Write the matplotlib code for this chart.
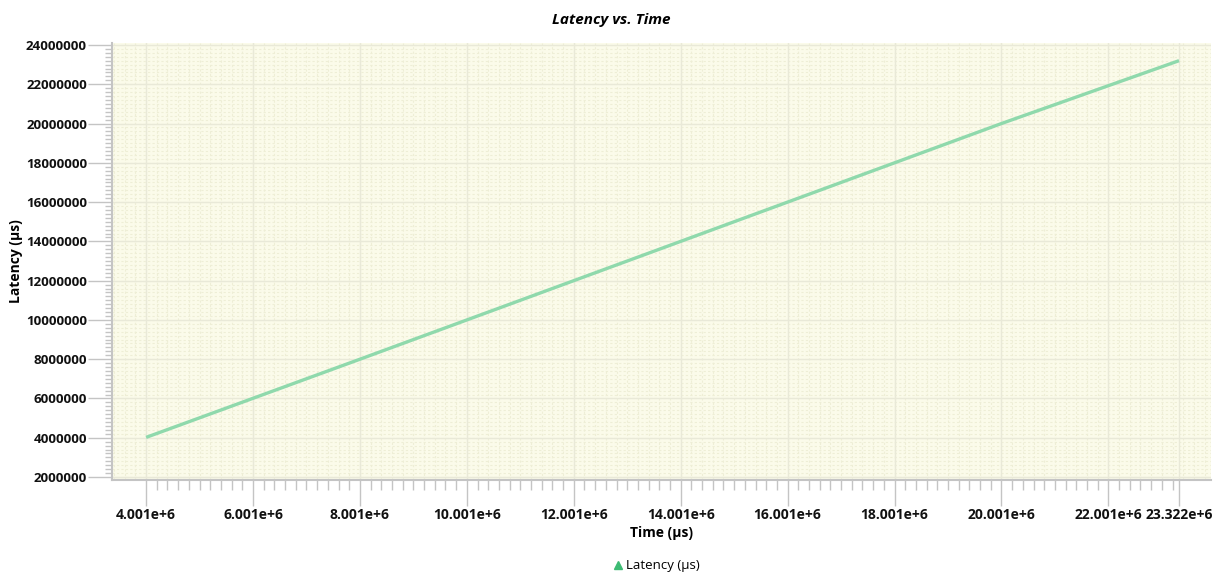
import numpy as np
import matplotlib
matplotlib.use("Agg")
import matplotlib.pyplot as plt
from matplotlib.lines import Line2D

# Latency samples over time (microseconds)
time_us = [4.001e6, 8.001e6, 12.001e6, 16.001e6, 20.001e6, 23.322e6]
latency_us = [4.02e6, 8.0e6, 12.0e6, 16.0e6, 20.0e6, 23.2e6]

x_ticks = [4.001e6, 6.001e6, 8.001e6, 10.001e6, 12.001e6, 14.001e6,
           16.001e6, 18.001e6, 20.001e6, 22.001e6, 23.322e6]
x_tick_labels = ["4.001e+6", "6.001e+6", "8.001e+6", "10.001e+6", "12.001e+6",
                 "14.001e+6", "16.001e+6", "18.001e+6", "20.001e+6",
                 "22.001e+6", "23.322e+6"]
y_ticks = [2e6, 4e6, 6e6, 8e6, 10e6, 12e6, 14e6, 16e6, 18e6, 20e6, 22e6, 24e6]
y_tick_labels = ["2000000", "4000000", "6000000", "8000000", "10000000",
                 "12000000", "14000000", "16000000", "18000000", "20000000",
                 "22000000", "24000000"]

plt.rcParams['font.family'] = ['Open Sans', 'DejaVu Sans']

W, H = 1223, 577
fig = plt.figure(figsize=(W / 100, H / 100), dpi=100)
ax = fig.add_axes([112 / W, (H - 480) / H, (1211 - 112) / W, (480 - 43) / H])

ax.set_facecolor("#fbfbea")
xmin, xmax = 3.363e6, 23.92e6
ymin, ymax = 1.85e6, 24.1e6
ax.set_xlim(xmin, xmax)
ax.set_ylim(ymin, ymax)

# minor grid / tick positions
x_minor_grid = np.arange(x_ticks[0] - 3 * 0.2e6, xmax, 0.2e6)
x_minor = np.arange(x_ticks[0], x_ticks[-1], 0.2e6)
y_minor = np.arange(2e6, ymax, 0.2e6)
for xv in x_minor_grid:
    ax.axvline(xv, color="#eeeed6", lw=0.8, ls=(0, (2, 2)), zorder=0)
for yv in y_minor:
    ax.axhline(yv, color="#eeeed6", lw=0.8, ls=(0, (2, 2)), zorder=0)
for xv in x_ticks:
    ax.axvline(xv, color="#e9e9d8", lw=1.0, zorder=0.5)
for yv in y_ticks:
    ax.axhline(yv, color="#e9e9d8", lw=1.0, zorder=0.5)

ax.plot(time_us, latency_us, color="#8fd9ac", lw=2.4, zorder=3,
        solid_capstyle="butt")

ax.set_xticks(x_ticks)
ax.set_xticklabels(x_tick_labels, fontsize=10, fontweight="bold")
ax.set_yticks(y_ticks)
ax.set_yticklabels(y_tick_labels, fontsize=9.6, fontweight="bold")
ax.set_xticks(x_minor, minor=True)
ax.set_yticks(y_minor, minor=True)

ax.tick_params(axis="x", which="major", length=19, width=1, color="#c4c4c4",
               pad=1, labelcolor="#111111")
ax.tick_params(axis="x", which="minor", length=7, width=1, color="#c4c4c4")
ax.tick_params(axis="y", which="major", length=17, width=1, color="#c4c4c4",
               pad=1, labelcolor="#111111")
ax.tick_params(axis="y", which="minor", length=5, width=1, color="#c4c4c4")

for s in ["top", "right"]:
    ax.spines[s].set_visible(False)
for s in ["left", "bottom"]:
    ax.spines[s].set_color("#c4c4c4")
    ax.spines[s].set_linewidth(1.5)

ax.set_xlabel("Time (µs)", fontsize=10, fontweight="bold", labelpad=3)
ax.set_ylabel("Latency (µs)", fontsize=10, fontweight="bold", labelpad=2)
fig.suptitle("Latency vs. Time", fontsize=11, fontweight="bold",
             fontstyle="italic", x=0.5, y=1 - 20 / H, va="center")

handle = Line2D([], [], ls="none", marker="^", color="#3dbb73", markersize=6)
fig.legend([handle], ["Latency (µs)"], loc="center", bbox_to_anchor=(0.536, 1 - 566 / H),
           frameon=False, fontsize=9.5, handletextpad=0.1, handlelength=1.0)

fig.savefig("out.png", dpi=100, facecolor="white")
